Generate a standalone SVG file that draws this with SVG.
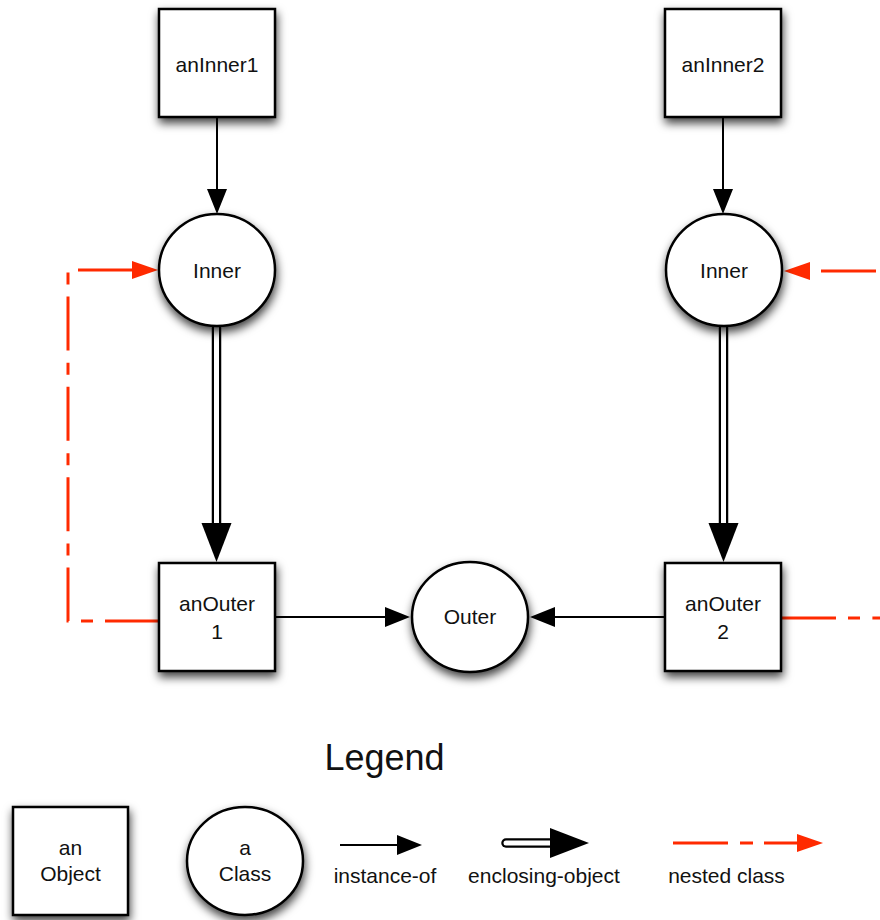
<svg xmlns="http://www.w3.org/2000/svg" width="880" height="920" viewBox="0 0 880 920">
<style>
.node{fill:#fff;stroke:#000;stroke-width:2.5}
.lbl{font-family:"Liberation Sans",Arial,sans-serif;font-size:21px;fill:#111;text-anchor:middle}
.inst{fill:none;stroke:#000;stroke-width:2}
.red{fill:none;stroke:#ff2a00;stroke-width:3;stroke-dasharray:54 12 12 12.4}
.shaftO{fill:none;stroke:#000;stroke-width:9.5;stroke-linecap:round}
.shaftI{fill:none;stroke:#fff;stroke-width:5;stroke-linecap:round}
</style>
<defs>
<filter id="sh" x="-25%" y="-25%" width="150%" height="160%">
<feDropShadow dx="1" dy="5" stdDeviation="5" flood-color="#000" flood-opacity="0.75"/>
</filter>
<marker id="aBlack" markerUnits="userSpaceOnUse" markerWidth="26" markerHeight="22" refX="0" refY="10" orient="auto" overflow="visible">
<path d="M0,0 L25,10 L0,20 Z" fill="#000"/>
</marker>
<marker id="aRed" markerUnits="userSpaceOnUse" markerWidth="26" markerHeight="20" refX="0" refY="9" orient="auto" overflow="visible">
<path d="M0,0 L26,9 L0,18 Z" fill="#ff2a00"/>
</marker>
<marker id="aBig" markerUnits="userSpaceOnUse" markerWidth="40" markerHeight="32" refX="0" refY="15" orient="auto" overflow="visible">
<path d="M0,0 L39,15 L0,30 Z" fill="#000"/>
</marker>
</defs>

<g id="connectors">
<path class="inst" d="M217,117 L217,189" marker-end="url(#aBlack)"/>
<path class="inst" d="M723,117 L723,189" marker-end="url(#aBlack)"/>
<path class="inst" d="M276,617 L385,617" marker-end="url(#aBlack)"/>
<path class="inst" d="M665,617 L555,617" marker-end="url(#aBlack)"/>
<path class="shaftO" d="M216.5,328 L216.5,523"/>
<path class="shaftI" d="M216.5,328 L216.5,523" marker-end="url(#aBig)"/>
<path class="shaftO" d="M723.5,328 L723.5,523"/>
<path class="shaftI" d="M723.5,328 L723.5,523" marker-end="url(#aBig)"/>
<path class="red" d="M159,621 L68,621 L68,270 L132,270" marker-end="url(#aRed)"/>
<path class="red" d="M782,618 L880,618"/>
<path class="red" style="stroke-dasharray:55 11" d="M876,271 L810,271" marker-end="url(#aRed)"/>
</g>

<g id="anInner1"><rect class="node" filter="url(#sh)" x="159" y="9" width="116" height="108"/><text class="lbl" x="217" y="72">anInner1</text></g>
<g id="anInner2"><rect class="node" filter="url(#sh)" x="665" y="9" width="116" height="108"/><text class="lbl" x="723" y="72">anInner2</text></g>
<g id="Inner1"><ellipse class="node" filter="url(#sh)" cx="217" cy="270" rx="58" ry="56"/><text class="lbl" x="217" y="278">Inner</text></g>
<g id="Inner2"><ellipse class="node" filter="url(#sh)" cx="724" cy="270" rx="58" ry="56"/><text class="lbl" x="724" y="278">Inner</text></g>
<g id="anOuter1"><rect class="node" filter="url(#sh)" x="159" y="563" width="116" height="108"/><text class="lbl" x="217" y="611">anOuter</text><text class="lbl" x="217" y="639">1</text></g>
<g id="anOuter2"><rect class="node" filter="url(#sh)" x="665" y="563" width="116" height="108"/><text class="lbl" x="723" y="611">anOuter</text><text class="lbl" x="723" y="639">2</text></g>
<g id="Outer"><ellipse class="node" filter="url(#sh)" cx="470" cy="617" rx="58" ry="55"/><text class="lbl" x="470" y="624">Outer</text></g>

<g id="legend">
<text class="lbl" style="font-size:36px" x="384.5" y="770">Legend</text>
<g id="legend-object"><rect class="node" filter="url(#sh)" x="13" y="807" width="115" height="108"/><text class="lbl" x="70.5" y="855">an</text><text class="lbl" x="70.5" y="881">Object</text></g>
<g id="legend-class"><ellipse class="node" filter="url(#sh)" cx="245" cy="861" rx="58" ry="54"/><text class="lbl" x="245" y="855">a</text><text class="lbl" x="245" y="881">Class</text></g>
<g id="legend-instance"><path class="inst" d="M340,845 L397,845" marker-end="url(#aBlack)"/><text class="lbl" x="385" y="883">instance-of</text></g>
<g id="legend-enclosing"><path class="shaftO" d="M506,843 L550,843"/><path class="shaftI" d="M506,843 L550,843" marker-end="url(#aBig)"/><text class="lbl" x="544" y="883">enclosing-object</text></g>
<g id="legend-nested"><path class="red" style="stroke-dasharray:55 12 13 11" d="M673,843 L797,843" marker-end="url(#aRed)"/><text class="lbl" x="726.5" y="883">nested class</text></g>
</g>
</svg>
